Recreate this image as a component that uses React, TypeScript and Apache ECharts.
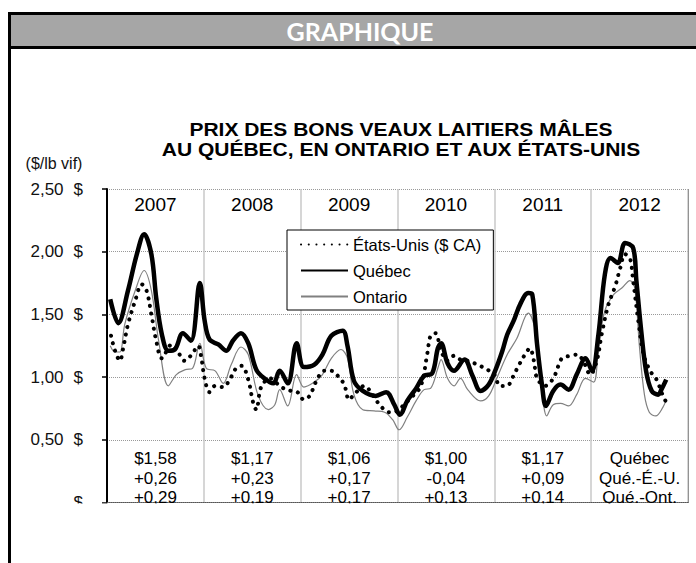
import { useEffect, useRef } from 'react';
import * as echarts from 'echarts';

const years = ['2007', '2008', '2009', '2010', '2011', '2012'];
const notes = [
  '$1,58\n+0,26\n+0,29',
  '$1,17\n+0,23\n+0,19',
  '$1,06\n+0,17\n+0,17',
  '$1,00\n-0,04\n+0,13',
  '$1,17\n+0,09\n+0,14',
  'Québec\nQué.-É.-U.\nQué.-Ont.',
];
const seriesNames = ['États-Unis ($ CA)', 'Québec', 'Ontario'];

// [month index since Jan 2007, $/lb]
const usPrices: [number, number][] = [
  [0.5, 1.33], [1.0, 1.21], [1.6, 1.13], [2.0, 1.23], [2.6, 1.42], [3.5, 1.61], [4.3, 1.74], [4.9, 1.69],
  [5.5, 1.5], [6.1, 1.29], [6.8, 1.15], [8.0, 1.26], [8.8, 1.2], [9.6, 1.13], [10.5, 1.18], [11.3, 1.25],
  [11.7, 1.15], [12.1, 0.99], [12.7, 0.88], [13.4, 0.93], [14.4, 0.92], [15.2, 0.98], [16.0, 1.07], [16.7, 1.09],
  [17.5, 0.98], [18.1, 0.8], [18.5, 0.74], [19.1, 0.92], [20.2, 0.99], [21.6, 0.92], [22.8, 0.89], [23.6, 0.88],
  [24.4, 0.82], [25.1, 0.85], [26.1, 0.99], [26.9, 1.05], [27.8, 1.05], [28.6, 1.01], [29.4, 0.94], [30.0, 0.82],
  [30.6, 0.86], [31.9, 0.93], [32.9, 0.86], [33.9, 0.77], [35.0, 0.72], [36.0, 0.73], [36.8, 0.78], [37.9, 0.85],
  [38.9, 0.93], [39.7, 1.19], [40.1, 1.33], [40.7, 1.35], [41.4, 1.21], [42.2, 1.13], [43.0, 1.17], [43.8, 1.14],
  [44.7, 1.13], [45.9, 1.1], [47.1, 1.06], [48.0, 1.02], [48.7, 0.93], [49.6, 0.93], [50.2, 0.99], [51.0, 1.09],
  [51.8, 1.18], [52.4, 1.23], [52.9, 1.13], [53.3, 0.99], [54.3, 0.93], [55.3, 0.99], [56.0, 1.1], [56.4, 1.15],
  [57.4, 1.17], [58.3, 1.18], [59.0, 1.13], [59.9, 1.02], [60.7, 1.13], [61.3, 1.34], [62.1, 1.57], [63.0, 1.73],
  [63.6, 1.87], [64.2, 1.98], [64.8, 1.95], [65.2, 1.77], [65.9, 1.42], [66.5, 1.18], [67.3, 1.05], [68.1, 0.98],
  [68.9, 0.85], [69.3, 0.8],
];

const quebecPrices: [number, number][] = [
  [0.4, 1.62], [1.4, 1.43], [2.6, 1.69], [3.7, 1.98], [4.6, 2.14], [5.5, 1.98], [6.1, 1.63], [6.8, 1.34],
  [7.6, 1.21], [8.4, 1.22], [9.4, 1.35], [10.4, 1.29], [11.5, 1.75], [12.1, 1.45], [12.7, 1.3], [13.8, 1.26],
  [14.8, 1.21], [15.6, 1.29], [16.6, 1.35], [17.5, 1.27], [18.5, 1.06], [19.5, 0.99], [20.6, 0.95], [21.4, 1.05],
  [22.4, 0.95], [23.5, 1.27], [24.4, 1.08], [25.7, 1.1], [26.7, 1.18], [27.8, 1.33], [29.2, 1.37], [29.8, 1.25],
  [30.6, 0.97], [31.7, 0.89], [33.3, 0.85], [34.6, 0.88], [35.6, 0.78], [36.3, 0.7], [37.2, 0.81], [38.3, 0.91],
  [39.3, 1.01], [40.3, 1.03], [41.0, 1.23], [41.4, 1.27], [42.2, 1.11], [43.0, 1.05], [44.3, 1.14], [45.3, 1.01],
  [46.3, 0.89], [47.3, 0.94], [48.1, 1.05], [49.0, 1.21], [49.6, 1.34], [50.4, 1.45], [51.2, 1.58], [52.2, 1.67],
  [52.7, 1.66], [53.3, 1.26], [53.9, 0.94], [54.4, 0.77], [55.3, 0.89], [56.2, 0.94], [57.2, 0.9], [58.2, 1.02],
  [59.3, 1.15], [60.1, 1.05], [60.9, 1.34], [61.7, 1.82], [62.4, 1.95], [63.3, 1.91], [64.2, 2.07], [65.2, 2.03],
  [65.6, 1.77], [66.2, 1.37], [66.8, 1.05], [67.5, 0.89], [68.3, 0.86], [68.7, 0.9], [69.3, 0.98],
];

const ontarioPrices: [number, number][] = [
  [0.4, 1.25], [1.0, 1.2], [1.6, 1.2], [2.2, 1.42], [3.5, 1.69], [4.6, 1.85], [5.5, 1.69], [6.4, 1.29],
  [7.6, 0.93], [8.6, 1.02], [9.7, 1.06], [10.6, 1.07], [11.5, 1.27], [12.3, 1.07], [13.4, 1.05], [14.4, 0.95],
  [15.4, 1.1], [16.6, 1.24], [17.5, 1.18], [18.7, 0.86], [20.0, 0.74], [20.8, 0.78], [21.4, 0.9], [22.4, 0.77],
  [23.5, 1.02], [24.4, 0.92], [25.7, 0.96], [26.7, 1.02], [27.8, 1.15], [29.0, 1.22], [29.8, 1.15], [30.6, 0.86],
  [31.7, 0.74], [33.1, 0.73], [34.4, 0.72], [35.4, 0.66], [36.2, 0.58], [37.2, 0.68], [38.3, 0.81], [39.3, 0.9],
  [40.1, 0.91], [41.0, 1.07], [41.4, 1.14], [42.2, 0.99], [43.0, 0.93], [43.8, 0.99], [44.7, 0.9], [46.3, 0.81],
  [47.3, 0.85], [48.3, 0.99], [49.6, 1.18], [50.8, 1.31], [52.2, 1.51], [53.1, 1.37], [53.7, 1.05], [54.5, 0.69],
  [55.3, 0.78], [56.2, 0.79], [57.2, 0.77], [58.2, 0.86], [59.3, 0.99], [60.3, 0.96], [60.9, 1.23], [61.7, 1.53],
  [62.8, 1.66], [63.8, 1.71], [64.8, 1.77], [65.4, 1.71], [66.0, 1.23], [66.6, 0.86], [67.2, 0.72], [68.0, 0.69],
  [68.9, 0.76], [69.3, 0.82],
];

const FONT = '"Liberation Sans", Arial, sans-serif';

export default function App() {
  const ref = useRef<HTMLDivElement>(null);
  useEffect(() => {
    const chart = echarts.init(ref.current!, null, { renderer: 'svg' });
    chart.setOption({
      animation: false,
      backgroundColor: '#fff',
      textStyle: { fontFamily: FONT, color: '#000' },
      grid: { left: 107, top: 189, right: 8, bottom: 60.5, containLabel: false },
      xAxis: [
        { type: 'value', min: 0, max: 72, show: false },
        {
          type: 'category',
          data: years,
          position: 'top',
          boundaryGap: true,
          axisLine: { show: true, lineStyle: { color: '#8c8c8c', type: 'dotted' } },
          axisTick: { show: false },
          axisLabel: { inside: true, margin: 6, fontSize: 19, color: '#000', interval: 0 },
          splitLine: { show: true, interval: 0, lineStyle: { color: '#c8c8c8', width: 1.5 } },
        },
        {
          type: 'category',
          data: notes,
          position: 'bottom',
          boundaryGap: true,
          axisLine: { show: true, lineStyle: { color: '#555', type: 'dotted' } },
          axisTick: { show: false },
          axisLabel: { inside: true, margin: -5, fontSize: 17, lineHeight: 19.5, color: '#000', interval: 0 },
          splitLine: { show: false },
        },
      ],
      yAxis: [
        {
          type: 'value',
          min: 0,
          max: 2.5,
          interval: 0.5,
          axisLine: { show: true, lineStyle: { color: '#000', width: 2 } },
          axisTick: { show: true, length: 5, lineStyle: { color: '#000', width: 1.5 } },
          axisLabel: {
            margin: 24,
            formatter: (v: number) =>
              v === 0 ? '{d|$}' : `{n|${v.toFixed(2).replace('.', ',')}}{d|$}`,
            rich: {
              n: { fontSize: 17, color: '#111', fontFamily: FONT },
              d: { fontSize: 17, color: '#111', fontFamily: FONT, padding: [0, 0, 0, 10] },
            },
          },
          splitLine: { show: true, lineStyle: { color: '#999', type: 'dotted' } },
        },
        {
          type: 'value',
          min: 0,
          max: 2.5,
          interval: 0.5,
          position: 'right',
          axisLine: { show: true, lineStyle: { color: '#8c8c8c', type: 'dotted' } },
          axisTick: { show: false },
          axisLabel: { show: false },
          splitLine: { show: false },
        },
      ],
      legend: {
        data: seriesNames,
        orient: 'vertical',
        left: 287,
        top: 230,
        padding: [6, 12, 5, 13],
        itemGap: 9,
        itemWidth: 47,
        itemHeight: 14,
        backgroundColor: '#fff',
        borderColor: '#000',
        borderWidth: 1,
        itemStyle: { opacity: 0 },
        textStyle: { fontSize: 16.5, color: '#000', fontFamily: FONT },
      },
      series: [
        {
          name: 'Ontario',
          type: 'line',
          data: ontarioPrices,
          symbol: 'none',
          smooth: 0.35,
          lineStyle: { color: '#808080', width: 1.2 },
          itemStyle: { color: '#808080' },
          z: 2,
        },
        {
          name: 'États-Unis ($ CA)',
          type: 'line',
          data: usPrices,
          symbol: 'none',
          smooth: 0.35,
          lineStyle: { color: '#000', width: 4, type: [0.1, 7.6], cap: 'round' },
          itemStyle: { color: '#000' },
          z: 3,
        },
        {
          name: 'Québec',
          type: 'line',
          data: quebecPrices,
          symbol: 'none',
          smooth: 0.35,
          lineStyle: { color: '#000', width: 4.5 },
          itemStyle: { color: '#000' },
          z: 4,
        },
      ],
      graphic: [
        {
          type: 'rect',
          shape: { x: 9.5, y: 13.5, width: 700, height: 34 },
          style: { fill: '#a6a6a6', stroke: '#000', lineWidth: 3 },
          silent: true,
        },
        {
          type: 'line',
          shape: { x1: 9.5, y1: 13, x2: 9.5, y2: 563 },
          style: { stroke: '#000', lineWidth: 3 },
          silent: true,
        },
        {
          type: 'rect',
          shape: { x: 12, y: 503.5, width: 690, height: 60 },
          style: { fill: '#fff' },
          z: 100,
          silent: true,
        },
        {
          type: 'text',
          x: 360,
          y: 31,
          style: {
            text: 'GRAPHIQUE',
            fill: '#fff',
            font: 'bold 25px Lato, "Open Sans", sans-serif',
            textAlign: 'center',
            textVerticalAlign: 'middle',
          },
          silent: true,
        },
        {
          type: 'text',
          x: 401,
          y: 130,
          scaleX: 1.2,
          style: {
            text: 'PRIX DES BONS VEAUX LAITIERS MÂLES',
            fill: '#000',
            font: `bold 17.5px ${FONT}`,
            textAlign: 'center',
            textVerticalAlign: 'middle',
          },
          silent: true,
        },
        {
          type: 'text',
          x: 401,
          y: 150,
          scaleX: 1.2,
          style: {
            text: 'AU QUÉBEC, EN ONTARIO ET AUX ÉTATS-UNIS',
            fill: '#000',
            font: `bold 17.5px ${FONT}`,
            textAlign: 'center',
            textVerticalAlign: 'middle',
          },
          silent: true,
        },
        {
          type: 'text',
          x: 54,
          y: 163,
          style: {
            text: '($/lb vif)',
            fill: '#111',
            font: `16px ${FONT}`,
            textAlign: 'center',
            textVerticalAlign: 'middle',
          },
          silent: true,
        },
      ],
    });
    return () => chart.dispose();
  }, []);
  return (
    <div
      ref={ref}
      style={{ position: 'absolute', left: 0, top: 0, width: 696, height: 563, background: '#fff' }}
    />
  );
}
